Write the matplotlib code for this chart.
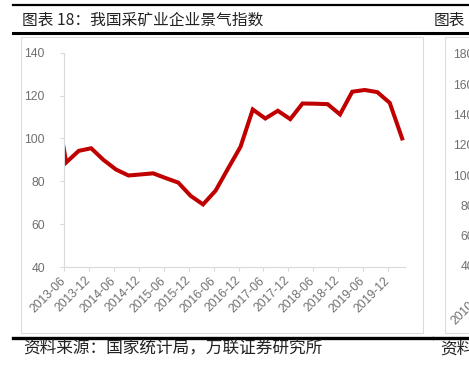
import numpy as np
import pandas as pd
import matplotlib
matplotlib.use("Agg")
import matplotlib.pyplot as plt
import matplotlib.dates as mdates
from matplotlib.lines import Line2D
from matplotlib.patches import Rectangle

plt.rcParams["font.family"] = ["Liberation Sans", "Noto Sans CJK SC", "DejaVu Sans"]

# ---- dados (trimestral) ----
quarters = ["2013Q1", "2013Q2", "2013Q3", "2013Q4",
            "2014Q1", "2014Q2", "2014Q3", "2014Q4",
            "2015Q1", "2015Q2", "2015Q3", "2015Q4",
            "2016Q1", "2016Q2", "2016Q3", "2016Q4",
            "2017Q1", "2017Q2", "2017Q3", "2017Q4",
            "2018Q1", "2018Q2", "2018Q3", "2018Q4",
            "2019Q1", "2019Q2", "2019Q3", "2019Q4",
            "2020Q1"]
climate_index = [122.0, 88.8, 94.2, 95.4,
                 90.0, 85.5, 82.7, 83.2,
                 83.7, 81.5, 79.4, 73.2,
                 69.2, 75.6, 86.0, 96.1,
                 113.5, 109.3, 112.9, 109.0,
                 116.3, 116.2, 116.0, 111.2,
                 121.8, 122.6, 121.6, 116.6,
                 100.0]
tick_dates = pd.date_range("2013-06-01", "2019-12-01", freq="6MS")
right_yticks = [40, 60, 80, 100, 120, 140, 160, 180]

title = "图表 18：我国采矿业企业景气指数"
source = "资料来源：国家统计局，万联证券研究所"

W, H = 469, 369
def fx(x):
    return x / W
def fy(y):
    return 1 - y / H

# pontos no meio do último mês de cada trimestre
x_dates = [pd.Period(q, "Q").asfreq("M", "end").to_timestamp() + pd.Timedelta(days=14) for q in quarters]

fig = plt.figure(figsize=(W / 100, H / 100), dpi=100)

# ---- moldura da página ----
for y, lw in [(5, 1.6), (33, 2.2), (338, 2.4)]:
    fig.add_artist(Line2D([fx(13), fx(432)], [fy(y), fy(y)], color="black", lw=lw))
    fig.add_artist(Line2D([fx(434), fx(469)], [fy(y), fy(y)], color="black", lw=lw))
fig.add_artist(Rectangle((fx(21), fy(333)), fx(423) - fx(21), fy(37) - fy(333),
                         fill=False, edgecolor="#dcdcdc", lw=0.8))
fig.add_artist(Rectangle((fx(445), fy(333)), fx(480) - fx(445), fy(37) - fy(333),
                         fill=False, edgecolor="#dcdcdc", lw=0.8))

cjk = ["Noto Sans CJK SC", "DejaVu Sans"]
fig.text(fx(22), fy(20), title, fontsize=11.3, color="#222222", va="center", family=cjk)
fig.text(fx(434), fy(20), "图表", fontsize=11.3, color="#222222", va="center", family=cjk)
fig.text(fx(23), fy(349), source, fontsize=12, color="#222222", va="center",
         style="italic", family=cjk)
fig.text(fx(440), fy(349), "资料来源", fontsize=12, color="#222222", va="center",
         style="italic", family=cjk)

# ---- gráfico principal ----
ax = fig.add_axes([fx(64.3), fy(267), fx(405) - fx(64.3), fy(52.7) - fy(267)])
ax.plot(x_dates, climate_index, color="#c00000", lw=2.9, solid_joinstyle="miter")
ax.set_xlim(pd.Timestamp("2013-06-01"), pd.Timestamp("2020-04-05"))
ax.set_ylim(40, 140)
ax.set_yticks(np.arange(40, 141, 20))
ax.set_xticks(tick_dates)
ax.xaxis.set_major_formatter(mdates.DateFormatter("%Y-%m"))
for s in ["top", "right"]:
    ax.spines[s].set_visible(False)
for s in ["left", "bottom"]:
    ax.spines[s].set_color("#d9d9d9")
    ax.spines[s].set_linewidth(0.8)
ax.tick_params(axis="y", colors="#d9d9d9", labelcolor="#707070", length=3, width=0.8,
               pad=11, labelsize=8.7)
ax.tick_params(axis="x", colors="#d9d9d9", labelcolor="#707070", length=3, width=0.8,
               pad=5.5, labelsize=8.7)
for lab in ax.get_xticklabels():
    lab.set_rotation(45)
    lab.set_ha("right")
    lab.set_va("center")
    lab.set_rotation_mode("anchor")

# ---- painel seguinte (cortado) ----
ax2 = fig.add_axes([fx(485), fy(266), 0.2, fy(54) - fy(266)])
ax2.set_ylim(40, 180)
ax2.set_yticks(right_yticks)
ax2.set_xticks([0.0])
ax2.set_xticklabels(["2010-01"])
ax2.set_xlim(0, 1)
for s in ax2.spines.values():
    s.set_visible(False)
ax2.tick_params(axis="y", length=0, pad=8, labelcolor="#707070", labelsize=8.7)
ax2.tick_params(axis="x", length=0, pad=18, labelcolor="#707070", labelsize=8.7)
for lab in ax2.get_xticklabels():
    lab.set_rotation(45)
    lab.set_ha("right")
    lab.set_va("center")
    lab.set_rotation_mode("anchor")

fig.savefig("out.png", dpi=100)
